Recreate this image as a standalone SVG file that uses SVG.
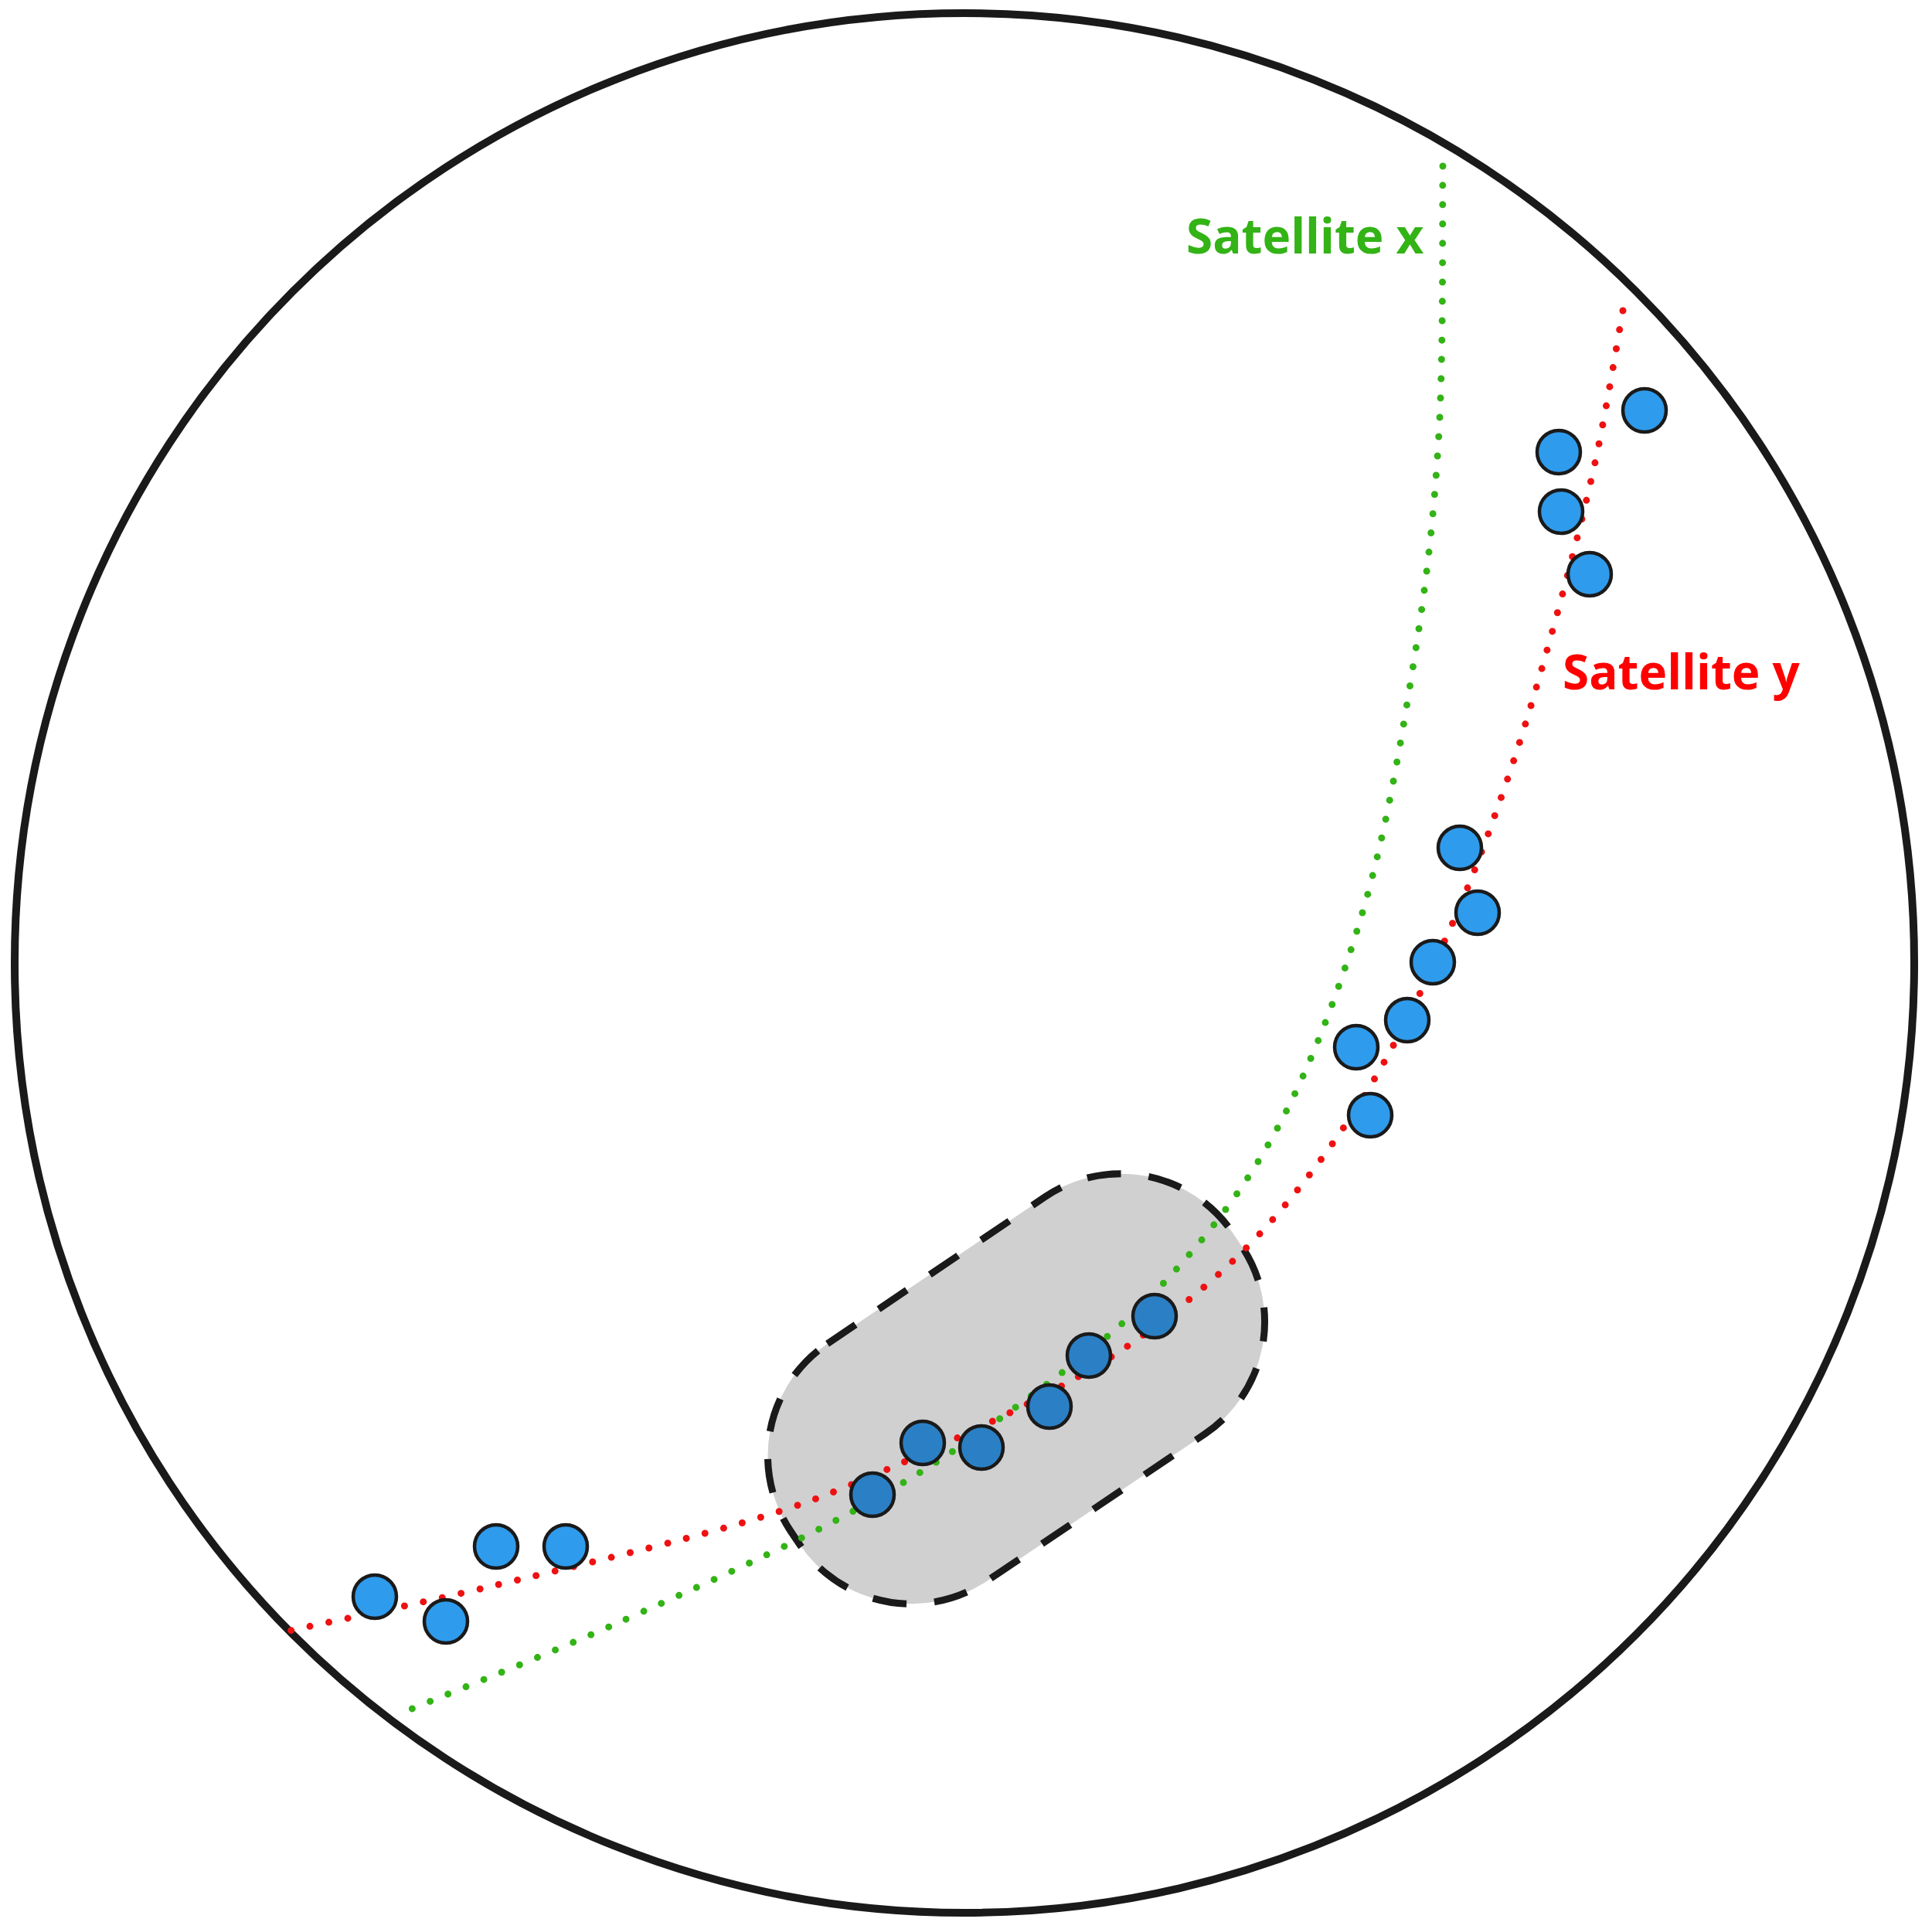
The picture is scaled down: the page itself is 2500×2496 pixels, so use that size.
<svg xmlns="http://www.w3.org/2000/svg" width="2500" height="2496" viewBox="0 0 2500 2496">
<style>
.sat{fill:#2f9bec;stroke:#1a1a1a;stroke-width:4.5}
.satd{fill:#2b80c5;stroke:#1a1a1a;stroke-width:4.5}
.orbit{fill:none;stroke-width:9;stroke-linecap:round;stroke-dasharray:0 25}
.lbl{font-family:"Open Sans","Noto Sans","Liberation Sans",sans-serif;font-weight:700;font-size:62px}
</style>
<rect width="2500" height="2496" fill="#ffffff"/>
<g id="earth"><circle cx="1248" cy="1246" r="1229" fill="none" stroke="#1a1a1a" stroke-width="10"/></g>
<g id="region"><rect x="-345" y="-185" width="690" height="370" rx="175" ry="175" transform="translate(1315,1797) rotate(-34)" fill="#d0d0d0" stroke="#1a1a1a" stroke-width="9" stroke-dasharray="44 36"/></g>
<g id="connectors">
<path id="orbit-x" class="orbit" stroke="#33b316" d="M1867,215 C1866.2,272.5 1868.2,453.7 1862,560 C1855.8,666.3 1846.2,750.7 1830,853 C1813.8,955.3 1794.2,1073.5 1765,1174 C1735.8,1274.5 1698.3,1374.8 1655,1456 C1611.7,1537.2 1561.8,1600.2 1505,1661 C1448.2,1721.8 1381.3,1771.7 1314,1821 C1246.7,1870.3 1187.2,1910.3 1101,1957 C1014.8,2003.7 893.7,2057.8 797,2101 C700.3,2144.2 567,2196.8 521,2216"/>
<path id="orbit-y" class="orbit" stroke="#ee1111" d="M2100,402 C2093.8,435.5 2078.5,532.8 2063,603 C2047.5,673.2 2026.2,754.2 2007,823 C1987.8,891.8 1970,952.3 1948,1016 C1926,1079.7 1904.3,1139.8 1875,1205 C1845.7,1270.2 1809,1346 1772,1407 C1735,1468 1693.8,1523.7 1653,1571 C1612.2,1618.3 1572.5,1654.5 1527,1691 C1481.5,1727.5 1442.7,1755.2 1380,1790 C1317.3,1824.8 1220.7,1870 1151,1900 C1081.3,1930 1047.5,1944.7 962,1970 C876.5,1995.3 735.8,2028.7 638,2052 C540.2,2075.3 418.8,2100.3 375,2110"/>
</g>
<g id="sat1"><circle class="sat" cx="2128" cy="531" r="28"/></g>
<g id="sat2"><circle class="sat" cx="2017" cy="585" r="28"/></g>
<g id="sat3"><circle class="sat" cx="2020" cy="662" r="28"/></g>
<g id="sat4"><circle class="sat" cx="2057" cy="743" r="28"/></g>
<g id="sat5"><circle class="sat" cx="1889" cy="1097" r="28"/></g>
<g id="sat6"><circle class="sat" cx="1912" cy="1181" r="28"/></g>
<g id="sat7"><circle class="sat" cx="1854" cy="1245" r="28"/></g>
<g id="sat8"><circle class="sat" cx="1821" cy="1320" r="28"/></g>
<g id="sat9"><circle class="sat" cx="1755" cy="1355" r="28"/></g>
<g id="sat10"><circle class="sat" cx="1773" cy="1443" r="28"/></g>
<g id="sat11"><circle class="sat" cx="642" cy="2001" r="28"/></g>
<g id="sat12"><circle class="sat" cx="732" cy="2001" r="28"/></g>
<g id="sat13"><circle class="sat" cx="485" cy="2066" r="28"/></g>
<g id="sat14"><circle class="sat" cx="577" cy="2098" r="28"/></g>
<g id="sat15"><circle class="satd" cx="1494" cy="1703" r="28"/></g>
<g id="sat16"><circle class="satd" cx="1409" cy="1754" r="28"/></g>
<g id="sat17"><circle class="satd" cx="1358" cy="1820" r="28"/></g>
<g id="sat18"><circle class="satd" cx="1270" cy="1873" r="28"/></g>
<g id="sat19"><circle class="satd" cx="1194" cy="1867" r="28"/></g>
<g id="sat20"><circle class="satd" cx="1129" cy="1934" r="28"/></g>
<g id="label-x"><text class="lbl" x="1535" y="328" fill="#33b316">Satellite x</text></g>
<g id="label-y"><text class="lbl" x="2022" y="892" fill="#ff0000">Satellite y</text></g>
</svg>
